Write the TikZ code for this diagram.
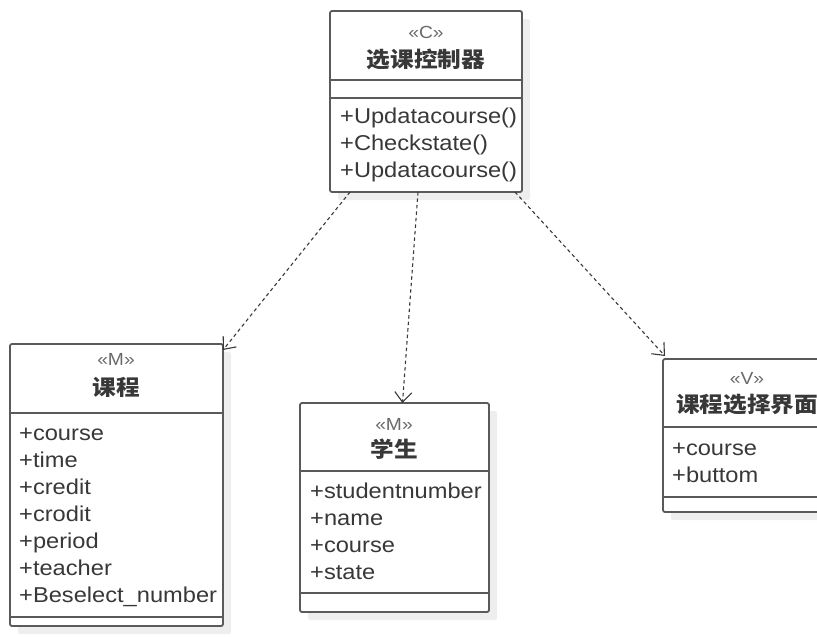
\documentclass[tikz,border=0pt]{standalone}
\usepackage{fontspec}
\setmainfont{Liberation Sans}[FakeStretch=1.1]
\newfontfamily\cjk{Noto Sans CJK SC}[FakeStretch=1.1]
\usetikzlibrary{arrows.meta,shadows}
\definecolor{ink}{HTML}{383838}
\definecolor{frame}{HTML}{5A5A5A}
\definecolor{stereo}{HTML}{6A6A6A}
\definecolor{shade}{HTML}{EEEEEE}

\begin{document}
\begin{tikzpicture}[x=1pt,y=-1pt,
  classbox/.style={draw=frame,line width=1.8pt,rounded corners=2pt,fill=white,
    inner sep=0pt,outer sep=0pt,anchor=north west,
    drop shadow={shadow xshift=8pt,shadow yshift=-8pt,fill=shade,opacity=1}},
  divider/.style={draw=frame,line width=1.8pt},
  stereotype/.style={anchor=base,inner sep=0pt,text=stereo,font=\fontsize{17.5}{17.5}\selectfont},
  classname/.style={anchor=base,inner sep=0pt,text=ink,font=\cjk\bfseries\fontsize{21.5}{21.5}\selectfont},
  member/.style={anchor=base west,inner sep=0pt,text=ink,font=\fontsize{21.5}{21.5}\selectfont},
  depends/.style={draw=ink,line width=1.1pt,dash pattern=on 3.5pt off 3pt,
    -{Straight Barb[length=10pt,width=17pt,line width=1.1pt]}}]

\useasboundingbox (0,0) rectangle (817,637);
\clip (0,0) rectangle (817,637);

% controller class
\node[classbox,minimum width=192pt,minimum height=181pt] (ctrl) at (330,11) {};
\draw[divider] (330,80) -- (522,80);
\draw[divider] (330,98) -- (522,98);
\node[stereotype] (ctrlst) at (426,38) {«C»};
\node[classname] (ctrlname) at (426,67) {选课控制器};
\node[member] (ctrlm1) at (340,123) {+Updatacourse()};
\node[member] (ctrlm2) at (340,150) {+Checkstate()};
\node[member] (ctrlm3) at (340,177) {+Updatacourse()};

% course model
\node[classbox,minimum width=213pt,minimum height=282pt] (course) at (10,344) {};
\draw[divider] (10,413) -- (223,413);
\draw[divider] (10,617) -- (223,617);
\node[stereotype] (coursest) at (116,365) {«M»};
\node[classname] (coursename) at (116,395) {课程};
\node[member] (coursea1) at (19,440) {+course};
\node[member] (coursea2) at (19,467) {+time};
\node[member] (coursea3) at (19,494) {+credit};
\node[member] (coursea4) at (19,521) {+crodit};
\node[member] (coursea5) at (19,548) {+period};
\node[member] (coursea6) at (19,575) {+teacher};
\node[member] (coursea7) at (19,602) {+Beselect\_number};

% student model
\node[classbox,minimum width=189pt,minimum height=209pt] (student) at (300,403) {};
\draw[divider] (300,471) -- (489,471);
\draw[divider] (300,593) -- (489,593);
\node[stereotype] (studentst) at (394,430) {«M»};
\node[classname] (studentname) at (394,457) {学生};
\node[member] (studenta1) at (310,498) {+studentnumber};
\node[member] (studenta2) at (310,525) {+name};
\node[member] (studenta3) at (310,552) {+course};
\node[member] (studenta4) at (310,579) {+state};

% selection view
\node[classbox,minimum width=168pt,minimum height=153pt] (view) at (663,359) {};
\draw[divider] (663,427) -- (831,427);
\draw[divider] (663,497) -- (831,497);
\node[stereotype] (viewst) at (747,384) {«V»};
\node[classname] (viewname) at (747,412) {课程选择界面};
\node[member] (viewa1) at (672,455) {+course};
\node[member] (viewa2) at (672,482) {+buttom};

% dependencies
\draw[depends] ([xshift=20pt]ctrl.south west) -- ([yshift=-6pt]course.north east);
\draw[depends] ([xshift=88pt]ctrl.south west) -- ([xshift=8pt]student.north);
\draw[depends] ([xshift=-7pt]ctrl.south east) -- ([xshift=2pt,yshift=3pt]view.north west);
\end{tikzpicture}
\end{document}
